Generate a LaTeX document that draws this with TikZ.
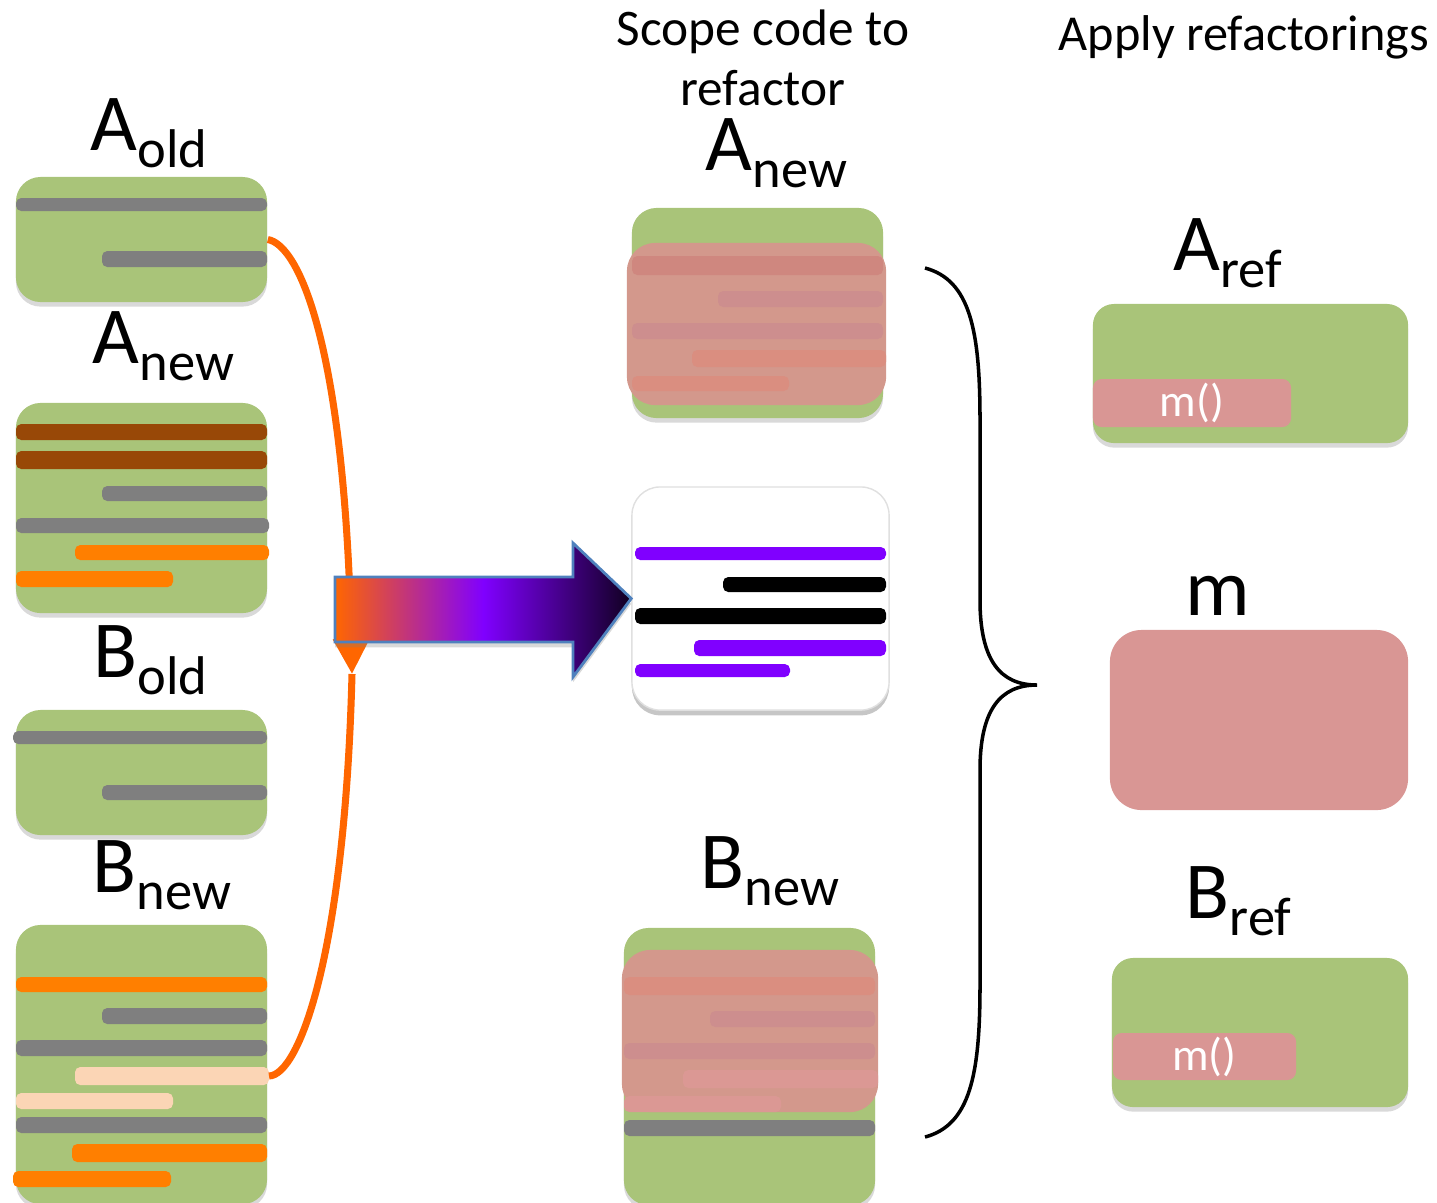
\documentclass[tikz,border=0pt]{standalone}
\usepackage{fontspec}
\setmainfont{Carlito}
\usetikzlibrary{arrows.meta}
\usetikzlibrary{shadows}
\definecolor{codegreen}{HTML}{A9C479}
\definecolor{codegray}{HTML}{7F7F7F}
\definecolor{codebrown}{HTML}{984807}
\definecolor{codeorange}{HTML}{FF7F00}
\definecolor{codepeach}{HTML}{FBD5B5}
\definecolor{codepurple}{HTML}{8000FF}
\definecolor{linkorange}{HTML}{FF6600}
\definecolor{methodpink}{HTML}{D99694}
\definecolor{tintbase}{HTML}{D3988C}
\definecolor{tinta}{HTML}{CF877F}
\definecolor{tintb}{HTML}{CD8E8E}
\definecolor{tintc}{HTML}{DA8E80}
\definecolor{tintd}{HTML}{DB9894}
\definecolor{arrowedge}{HTML}{4F81BD}
\definecolor{arrowdark}{HTML}{100020}
\newcommand{\codeline}[5]{\fill[#5,rounded corners=1.5pt] (#1,#2) rectangle (#3,#4);}
\newcommand{\sublabel}[2]{\fontsize{23}{27}\selectfont #1\raisebox{-5.1pt}{\fontsize{15.5}{18}\selectfont #2}}

\begin{document}
\begin{tikzpicture}[x=0.01cm,y=-0.01cm]
            \useasboundingbox (0,0) rectangle (1437,1202);

            % titles and labels
            \begin{scope}[every node/.style={anchor=base west,inner sep=0pt}]
                \node[anchor=base,align=center,font=\fontsize{14.6}{17}\selectfont] (scopetitle) at (763,105) {Scope code to\\refactor};
                \node[font=\fontsize{14.3}{17}\selectfont] (applytitle) at (1058,50) {Apply refactorings};
                \node (laold) at (90,150) {\sublabel{A}{old}};
                \node (lanew) at (92,363) {\sublabel{A}{new}};
                \node (lbold) at (93,677) {\sublabel{B}{old}};
                \node (lbnew) at (92,892) {\sublabel{B}{new}};
                \node (lmanew) at (705,170) {\sublabel{A}{new}};
                \node (lmbnew) at (700,888) {\sublabel{B}{new}};
                \node (laref) at (1173,270) {\sublabel{A}{ref}};
                \node (lbref) at (1185,918) {\sublabel{B}{ref}};
                \node (lm) at (1185,615) {\fontsize{23}{27}\selectfont m};
            \end{scope}

            % green code boxes
            \begin{scope}[every node/.style={rectangle,rounded corners=7pt,fill=codegreen,inner sep=0pt,
                minimum width=2.51cm,drop shadow={shadow xshift=0pt,shadow yshift=-1.3pt,opacity=0.3}}]
                \node[minimum height=1.25cm] (aold) at (141.5,239.5) {};
                \node[minimum height=2.10cm] (anew) at (141.5,508) {};
                \node[minimum height=1.25cm] (bold) at (141.5,772.5) {};
                \node[minimum height=2.79cm] (bnew) at (141.5,1064.5) {};
                \node[minimum height=2.10cm] (manew) at (757.5,313) {};
                \node[minimum height=2.77cm] (mbnew) at (749.5,1066.5) {};
                \node[minimum width=3.15cm,minimum height=1.39cm,rounded corners=6pt] (aref) at (1250.5,373.5) {};
                \node[minimum width=2.96cm,minimum height=1.49cm,rounded corners=6pt] (bref) at (1260,1032.5) {};
            \end{scope}

            % code lines
            \codeline{16}{198}{267}{211}{codegray}
            \codeline{102}{251}{267}{267}{codegray}
            \codeline{16}{424}{267}{440}{codebrown}
            \codeline{16}{451}{267}{469}{codebrown}
            \codeline{102}{486}{267}{501}{codegray}
            \codeline{16}{518}{269}{533}{codegray}
            \codeline{75}{545}{269}{560}{codeorange}
            \codeline{16}{571}{173}{587}{codeorange}
            \codeline{13}{731}{267}{744}{codegray}
            \codeline{102}{785}{267}{800}{codegray}
            \codeline{16}{977}{267}{992}{codeorange}
            \codeline{102}{1008}{267}{1024}{codegray}
            \codeline{16}{1040}{267}{1056}{codegray}
            \codeline{75}{1067}{269}{1085}{codepeach}
            \codeline{16}{1093}{173}{1109}{codepeach}
            \codeline{16}{1117}{267}{1133}{codegray}
            \codeline{72}{1144}{267}{1162}{codeorange}
            \codeline{13}{1171}{171}{1187}{codeorange}
            \coordinate (bnlink) at (269,1076);
            \codeline{624}{1120}{875}{1136}{codegray}

            % scoped parts
            \begin{scope}[every node/.style={rectangle,rounded corners=8pt,fill=tintbase,inner sep=0pt}]
                \node[minimum width=2.59cm,minimum height=1.62cm] (scopea) at (756.5,324) {};
                \node[minimum width=2.56cm,minimum height=1.62cm] (scopeb) at (750,1031) {};
            \end{scope}
            \codeline{632}{256}{883}{275}{tinta}
            \codeline{718}{291}{883}{307}{tintb}
            \codeline{632}{323}{883}{339}{tintb}
            \codeline{692}{350}{886}{367}{tintc}
            \codeline{632}{376}{789}{391}{tintc}
            \codeline{624}{977}{875}{995}{tintc}
            \codeline{710}{1011}{875}{1027}{tintb}
            \codeline{624}{1043}{875}{1059}{tintb}
            \codeline{683}{1070}{878}{1088}{tintd}
            \codeline{624}{1096}{781}{1112}{tintd}

            % method boxes
            \begin{scope}[every node/.style={rectangle,fill=methodpink,inner sep=0pt,text=white,
                font=\fontsize{13}{15}\selectfont}]
                \node[minimum width=1.98cm,minimum height=0.48cm,rounded corners=2.5pt] (acall) at (1192,403) {m()};
                \node[minimum width=1.83cm,minimum height=0.47cm,rounded corners=2.5pt] (bcall) at (1204.5,1056.5) {m()};
                \node[minimum width=2.98cm,minimum height=1.80cm,rounded corners=9pt] (mbox) at (1259,720) {};
            \end{scope}

            % extracted code
            \node[rectangle,rounded corners=8pt,fill=white,draw=black!12,inner sep=0pt,minimum width=2.57cm,
                minimum height=2.23cm,drop shadow={shadow xshift=0pt,shadow yshift=-1.5pt,opacity=0.45}] (scoped) at (760.5,598.5) {};
            \codeline{635}{547}{886}{560}{codepurple}
            \codeline{723}{577}{886}{592}{black}
            \codeline{635}{608}{886}{624}{black}
            \codeline{694}{640}{886}{656}{codepurple}
            \codeline{635}{664}{790}{677}{codepurple}

            % link between the changes
            \coordinate (linkmid) at (352,674);
            \begin{scope}[every path/.style={draw=linkorange,line width=2pt}]
                \path[-{Triangle[length=10pt,width=10pt]}] (aold.east) .. controls (300,245) and (345,350) .. (linkmid);
                \path (linkmid) .. controls (345,950) and (300,1075) .. (bnlink);
            \end{scope}

            % big arrow
            \shadedraw[left color=linkorange,right color=arrowdark,middle color=codepurple,draw=arrowedge,line width=0.8pt,
                drop shadow={shadow xshift=0pt,shadow yshift=-1.5pt,opacity=0.3}]
                (335,577) -- (573,577) -- (573,543) -- (scoped.west) -- (573,677) -- (573,642) -- (335,642) -- cycle;

            % brace
            \draw[line width=1pt] (925,268) .. controls (970,280) and (980,330) .. (980,420) -- (980,600)
                .. controls (980,660) and (1000,685) .. (1037,685) .. controls (1000,685) and (980,710) .. (980,770)
                -- (980,985) .. controls (980,1075) and (970,1125) .. (925,1137);
\end{tikzpicture}
\end{document}
